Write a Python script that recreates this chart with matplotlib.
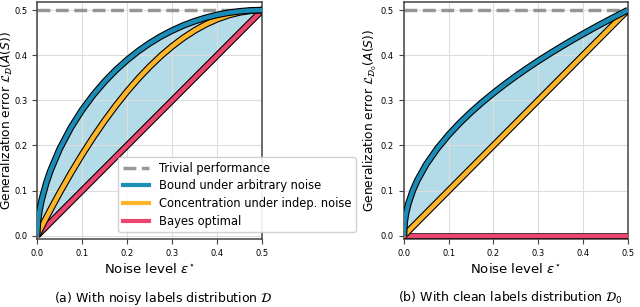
import matplotlib
matplotlib.use('Agg')
import matplotlib.pyplot as plt
import matplotlib.patheffects as pe
from matplotlib.lines import Line2D

# noise levels
eps = [0.0, 0.002, 0.005, 0.01, 0.02, 0.03, 0.05, 0.075, 0.1, 0.125, 0.15, 0.175, 0.2,
       0.225, 0.25, 0.275, 0.3, 0.325, 0.35, 0.375, 0.4, 0.425, 0.45, 0.475, 0.5]

# (a) noisy labels distribution
bound_a = [0.0, 0.0335, 0.0545, 0.0793, 0.116, 0.1451, 0.1923, 0.2396, 0.2789, 0.3125, 0.3417,
           0.3673, 0.3897, 0.4095, 0.4268, 0.4419, 0.4549, 0.4661, 0.4755, 0.4833, 0.4894,
           0.4942, 0.4974, 0.4994, 0.5]
conc_a = [0.0, 0.004, 0.0099, 0.0198, 0.0392, 0.0582, 0.095, 0.1388, 0.18, 0.2188, 0.255,
          0.2888, 0.32, 0.3488, 0.375, 0.3988, 0.42, 0.4388, 0.455, 0.4688, 0.48, 0.4888,
          0.495, 0.4988, 0.5]
bayes_a = [0.0, 0.002, 0.005, 0.01, 0.02, 0.03, 0.05, 0.075, 0.1, 0.125, 0.15, 0.175, 0.2,
           0.225, 0.25, 0.275, 0.3, 0.325, 0.35, 0.375, 0.4, 0.425, 0.45, 0.475, 0.5]

# (b) clean labels distribution
bound_b = [0.0, 0.0316, 0.05, 0.0707, 0.1, 0.1225, 0.1581, 0.1936, 0.2236, 0.25, 0.2739,
           0.2958, 0.3162, 0.3354, 0.3536, 0.3708, 0.3873, 0.4031, 0.4183, 0.433, 0.4472,
           0.461, 0.4743, 0.4873, 0.5]
conc_b = [0.0, 0.002, 0.005, 0.01, 0.02, 0.03, 0.05, 0.075, 0.1, 0.125, 0.15, 0.175, 0.2,
          0.225, 0.25, 0.275, 0.3, 0.325, 0.35, 0.375, 0.4, 0.425, 0.45, 0.475, 0.5]
bayes_b = [0.0] * len(eps)

trivial = 0.5
ticks = [0.0, 0.1, 0.2, 0.3, 0.4, 0.5]

c_blue = '#1a8cb6'
c_orange = '#fdb52a'
c_red = '#e9476d'
c_fill = '#b4dbe8'

outline = [pe.Stroke(linewidth=4.8, foreground='black'), pe.Normal()]

fig = plt.figure(figsize=(6.4, 3.07), dpi=100)
ax1 = fig.add_axes([0.058, 0.2205, 0.352, 0.7745])
ax2 = fig.add_axes([0.631, 0.2205, 0.350, 0.7745])


def draw(ax, bound, conc, bayes, lower, ylab, ylab_x):
    ax.grid(True, color='#dddddd', linewidth=0.8, zorder=0)
    ax.fill_between(eps, bound, lower, color=c_fill, zorder=1, linewidth=0)
    ax.axhline(trivial, color='gray', alpha=0.8, lw=2.5, ls='--', zorder=2)
    ax.plot(eps, bayes, color=c_red, lw=3.2, zorder=3, path_effects=outline,
            solid_capstyle='butt')
    ax.plot(eps, conc, color=c_orange, lw=3.2, zorder=4, path_effects=outline,
            solid_capstyle='butt')
    ax.plot(eps, bound, color=c_blue, lw=3.2, zorder=5, path_effects=outline,
            solid_capstyle='butt')
    ax.set_xlim(0, 0.5)
    ax.set_ylim(-0.008, 0.519)
    ax.set_xticks(ticks)
    ax.set_yticks(ticks)
    ax.tick_params(labelsize=6, length=3.5, color='#444444')
    for s in ax.spines.values():
        s.set_color('#444444')
        s.set_linewidth(1.1)
    ax.set_xlabel(r'Noise level $\varepsilon^{\star}$', fontsize=9.5, labelpad=3)
    ax.set_ylabel(ylab, fontsize=8.8)
    ax.yaxis.set_label_coords(ylab_x, 0.5)


draw(ax1, bound_a, conc_a, bayes_a, bayes_a,
     r'Generalization error $\mathcal{L}_{\mathcal{D}}(A(S))$', -0.097)
draw(ax2, bound_b, conc_b, bayes_b, conc_b,
     r'Generalization error $\mathcal{L}_{\mathcal{D}_0}(A(S))$', -0.11)

handles = [Line2D([], [], color='gray', alpha=0.8, lw=2.5, ls='--'),
           Line2D([], [], color=c_blue, lw=3),
           Line2D([], [], color=c_orange, lw=3),
           Line2D([], [], color=c_red, lw=3)]
labels = ['Trivial performance', 'Bound under arbitrary noise',
          'Concentration under indep. noise', 'Bayes optimal']
leg = ax1.legend(handles, labels, loc='lower left', bbox_to_anchor=(0.36, 0.03),
                 borderaxespad=0, fontsize=8.3, handlelength=2.3, framealpha=0.9,
                 labelspacing=0.4)
leg.set_zorder(10)

fig.text(0.255, 0.029, r'(a) With noisy labels distribution $\mathcal{D}$',
         ha='center', va='center', fontsize=9)
fig.text(0.798, 0.029, r'(b) With clean labels distribution $\mathcal{D}_0$',
         ha='center', va='center', fontsize=9)

fig.savefig('out.png', dpi=100)
